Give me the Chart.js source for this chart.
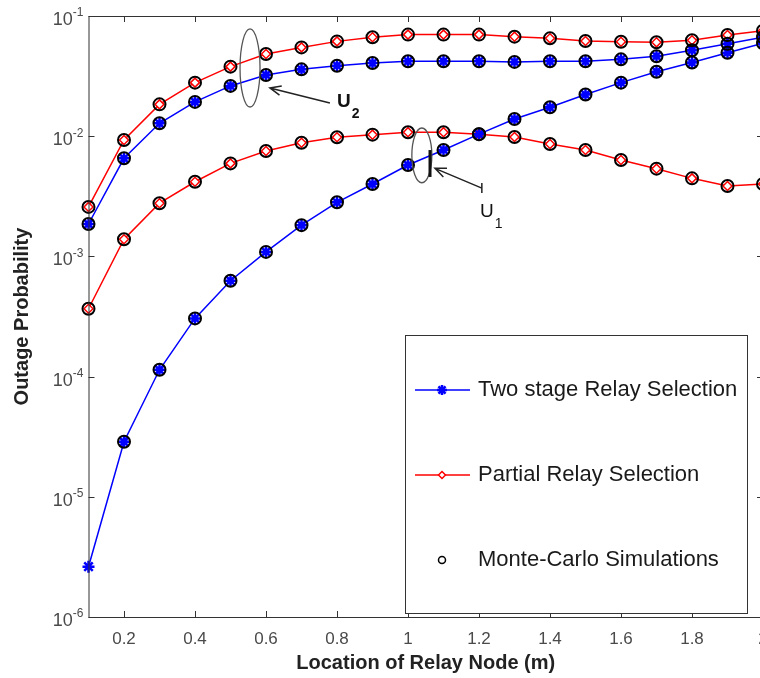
<!DOCTYPE html>
<html>
<head>
<meta charset="utf-8">
<script src="https://cdn.jsdelivr.net/npm/chart.js@4.4.1/dist/chart.umd.min.js"></script>
<style>
  html, body { margin: 0; padding: 0; background: #fff; overflow: hidden; }
  canvas { display: block; }
</style>
</head>
<body>
<canvas id="outage" width="800" height="678"></canvas>
<script>
// relay position along the link (m)
const relayPos = [0.1, 0.2, 0.3, 0.4, 0.5, 0.6, 0.7, 0.8, 0.9, 1.0,
                  1.1, 1.2, 1.3, 1.4, 1.5, 1.6, 1.7, 1.8, 1.9, 2.0];

// outage probability, user U1 and U2
const twoStageU1 = [2.62e-6, 2.87e-5, 1.14e-4, 3.05e-4, 6.28e-4, 1.09e-3, 1.82e-3, 2.82e-3, 4.0e-3, 5.76e-3,
                    7.68e-3, 1.04e-2, 1.39e-2, 1.74e-2, 2.22e-2, 2.79e-2, 3.44e-2, 4.1e-2, 4.95e-2, 5.93e-2];
const twoStageU2 = [1.86e-3, 6.55e-3, 1.28e-2, 1.93e-2, 2.62e-2, 3.23e-2, 3.6e-2, 3.86e-2, 4.06e-2, 4.2e-2,
                    4.2e-2, 4.2e-2, 4.15e-2, 4.2e-2, 4.2e-2, 4.36e-2, 4.63e-2, 5.19e-2, 5.87e-2, 6.65e-2];
const partialU1 = [3.67e-4, 1.39e-3, 2.77e-3, 4.18e-3, 5.94e-3, 7.53e-3, 8.83e-3, 9.8e-3, 1.03e-2, 1.08e-2,
                   1.08e-2, 1.04e-2, 9.85e-3, 8.61e-3, 7.68e-3, 6.34e-3, 5.37e-3, 4.46e-3, 3.85e-3, 4.0e-3];
const partialU2 = [2.58e-3, 9.3e-3, 1.84e-2, 2.79e-2, 3.79e-2, 4.83e-2, 5.48e-2, 6.15e-2, 6.65e-2, 7.0e-2,
                   7.0e-2, 7.0e-2, 6.73e-2, 6.52e-2, 6.2e-2, 6.11e-2, 6.04e-2, 6.28e-2, 6.95e-2, 7.55e-2];

const xTicks = [0.2, 0.4, 0.6, 0.8, 1, 1.2, 1.4, 1.6, 1.8, 2];
const yTicks = [1e-6, 1e-5, 1e-4, 1e-3, 1e-2, 1e-1];
const seriesNames = ['Two stage Relay Selection', 'Partial Relay Selection', 'Monte-Carlo Simulations'];

const FONT = '"Liberation Sans", Arial, sans-serif';
const BLUE = '#0000ff';
const RED = '#ff0000';
const AXIS = '#333333';
const TICK_TEXT = '#4a4a4a';

const pts = arr => arr.map((v, i) => ({ x: relayPos[i], y: v }));

const twoStage = (data) => ({
  label: seriesNames[0], data: pts(data), order: 2, clip: false,
  borderColor: BLUE, borderWidth: 1.5, backgroundColor: BLUE,
  pointStyle: 'star', pointRadius: 6, pointBorderWidth: 2.5, tension: 0
});
const partial = (data) => ({
  label: seriesNames[1], data: pts(data), order: 2, clip: false,
  borderColor: RED, borderWidth: 1.5, backgroundColor: '#ffffff',
  pointStyle: 'rectRot', pointRadius: 4.5, pointBorderWidth: 1.5, tension: 0
});
const monteCarlo = (points) => ({
  label: seriesNames[2], data: points, order: 0, showLine: false, clip: false,
  borderColor: '#000', backgroundColor: 'rgba(0,0,0,0)',
  pointStyle: 'circle', pointRadius: 6, pointBorderWidth: 2
});

// annotation marks, in data units
const u2Ring = { x: 0.555, top: 0.078, bottom: 0.0175 };
const u1Ring = { x: 1.039, top: 0.0117, bottom: 0.0041 };
const u2Arrow = { from: [0.78, 0.0189], to: [0.611, 0.0252] };
const u1Arrow = { from: [1.208, 0.0037], to: [1.076, 0.0054] };
const u1Bar = { x: 1.062, top: 0.00767, bottom: 0.00458 };
const u2Text = { x: 0.80, y: 0.0175, bold: true, sub: '2' };
const u1Text = { x: 1.203, y: 0.00213, bold: false, sub: '1' };

const legendBox = { width: 342, height: 278, right: 16, bottom: 4 };

const framePlugin = {
  id: 'frame',
  afterDraw(chart) {
    const { ctx, chartArea: a, scales: { x, y } } = chart;
    const P = (vx, vy) => [x.getPixelForValue(vx), y.getPixelForValue(vy)];
    ctx.save();

    // box and inward ticks
    ctx.strokeStyle = AXIS;
    ctx.lineWidth = 1;
    ctx.strokeRect(a.left + 0.5, a.top + 0.5, a.right - a.left, a.bottom - a.top);
    ctx.beginPath();
    xTicks.forEach(v => {
      const px = Math.round(x.getPixelForValue(v)) + 0.5;
      ctx.moveTo(px, a.bottom); ctx.lineTo(px, a.bottom - 6);
      ctx.moveTo(px, a.top); ctx.lineTo(px, a.top + 6);
    });
    yTicks.forEach(v => {
      const py = Math.round(y.getPixelForValue(v)) + 0.5;
      ctx.moveTo(a.left, py); ctx.lineTo(a.left + 6, py);
      ctx.moveTo(a.right, py); ctx.lineTo(a.right - 6, py);
    });
    ctx.stroke();

    // decade labels: base 10 with raised exponent
    ctx.fillStyle = TICK_TEXT;
    ctx.textBaseline = 'middle';
    ctx.textAlign = 'right';
    y.ticks.forEach(t => {
      const py = y.getPixelForValue(t.value);
      const exp = String(Math.round(Math.log10(t.value)));
      ctx.font = '12px ' + FONT;
      const ew = ctx.measureText(exp).width;
      ctx.fillText(exp, a.left - 5, py - 3);
      ctx.font = '18px ' + FONT;
      ctx.fillText('10', a.left - 5 - ew, py + 4);
    });

    // user group rings
    ctx.strokeStyle = '#555';
    ctx.lineWidth = 1.3;
    [u2Ring, u1Ring].forEach(r => {
      const [cx, ty] = P(r.x, r.top);
      const by = P(r.x, r.bottom)[1];
      ctx.beginPath();
      ctx.ellipse(cx, (ty + by) / 2, 10, (by - ty) / 2, 0, 0, Math.PI * 2);
      ctx.stroke();
    });

    const [bx, bt] = P(u1Bar.x, u1Bar.top);
    const bb = P(u1Bar.x, u1Bar.bottom)[1];
    ctx.strokeStyle = '#111';
    ctx.lineWidth = 3;
    ctx.beginPath(); ctx.moveTo(bx, bt); ctx.lineTo(bx, bb); ctx.stroke();

    // arrows
    ctx.strokeStyle = '#222';
    ctx.lineWidth = 1.5;
    [u2Arrow, u1Arrow].forEach((ar, k) => {
      const [x0, y0] = P(...ar.from);
      const [x1, y1] = P(...ar.to);
      const ang = Math.atan2(y1 - y0, x1 - x0);
      ctx.beginPath();
      ctx.moveTo(x0, y0); ctx.lineTo(x1, y1);
      ctx.moveTo(x1 - 12 * Math.cos(ang - 0.4), y1 - 12 * Math.sin(ang - 0.4));
      ctx.lineTo(x1, y1);
      ctx.lineTo(x1 - 12 * Math.cos(ang + 0.4), y1 - 12 * Math.sin(ang + 0.4));
      if (k === 1) { ctx.moveTo(x0, y0 - 5); ctx.lineTo(x0, y0 + 5); }
      ctx.stroke();
    });

    // U labels
    ctx.fillStyle = '#111';
    ctx.textBaseline = 'alphabetic';
    ctx.textAlign = 'left';
    [u2Text, u1Text].forEach(t => {
      const [tx, ty] = P(t.x, t.y);
      ctx.font = (t.bold ? 'bold ' : '') + '19px ' + FONT;
      ctx.fillText('U', tx, ty);
      const w = ctx.measureText('U').width;
      ctx.font = (t.bold ? 'bold ' : '') + '14px ' + FONT;
      ctx.fillText(t.sub, tx + w + 1, ty + 11);
    });

    // legend
    const L = a.right - legendBox.right - legendBox.width;
    const T = a.bottom - legendBox.bottom - legendBox.height;
    ctx.fillStyle = '#fff';
    ctx.fillRect(L, T, legendBox.width, legendBox.height);
    ctx.strokeStyle = AXIS;
    ctx.lineWidth = 1;
    ctx.strokeRect(L + 0.5, T + 0.5, legendBox.width, legendBox.height);
    const samples = [chart.data.datasets[0], chart.data.datasets[2], chart.data.datasets[4]];
    samples.forEach((ds, i) => {
      const ly = T + 55 + i * 85;
      const mx = L + 37;
      ctx.strokeStyle = ds.borderColor;
      if (ds.showLine !== false) {
        ctx.lineWidth = 1.5;
        ctx.beginPath(); ctx.moveTo(L + 10, ly); ctx.lineTo(L + 65, ly); ctx.stroke();
        ctx.fillStyle = ds.backgroundColor;
        ctx.lineWidth = ds.pointBorderWidth;
        Chart.helpers.drawPoint(ctx, {
          pointStyle: ds.pointStyle, radius: ds.pointRadius - 1, borderWidth: ds.pointBorderWidth
        }, mx, ly);
      } else {
        ctx.lineWidth = 1.5;
        ctx.beginPath(); ctx.arc(mx, ly, 3.5, 0, Math.PI * 2); ctx.stroke();
      }
      ctx.fillStyle = '#1a1a1a';
      ctx.font = '22px ' + FONT;
      ctx.textBaseline = 'middle';
      ctx.fillText(ds.label, L + 73, ly);
    });
    ctx.restore();
  }
};

new Chart(document.getElementById('outage'), {
  type: 'line',
  data: {
    datasets: [
      twoStage(twoStageU1), monteCarlo(pts(twoStageU1).slice(1)),
      partial(partialU1), monteCarlo(pts(partialU1)),
      monteCarlo(pts(twoStageU2)), twoStage(twoStageU2),
      partial(partialU2), monteCarlo(pts(partialU2))
    ]
  },
  options: {
    responsive: false,
    animation: false,
    layout: { padding: { top: 16, right: 37, left: 0, bottom: 0 } },
    plugins: { legend: { display: false }, tooltip: { enabled: false } },
    scales: {
      x: {
        type: 'linear', min: 0.1, max: 2,
        afterBuildTicks: s => { s.ticks = xTicks.map(v => ({ value: v })); },
        afterFit: s => { s.height = 61; },
        grid: { drawOnChartArea: false, drawTicks: false },
        border: { display: false },
        ticks: {
          padding: 12, color: TICK_TEXT, font: { family: FONT, size: 17 },
          callback: v => String(+v.toFixed(1))
        },
        title: {
          display: true, text: 'Location of Relay Node (m)', color: '#222',
          font: { family: FONT, size: 20, weight: 'bold' }, padding: { top: 0, bottom: 3 }
        }
      },
      y: {
        type: 'logarithmic', min: 1e-6, max: 1e-1,
        afterBuildTicks: s => { s.ticks = yTicks.map(v => ({ value: v })); },
        afterFit: s => { s.width = 88.5; },
        grid: { drawOnChartArea: false, drawTicks: false },
        border: { display: false },
        ticks: { display: false },
        title: {
          display: true, text: 'Outage Probability', color: '#222',
          font: { family: FONT, size: 20, weight: 'bold' }, padding: { top: 10, bottom: 0 }
        }
      }
    }
  },
  plugins: [framePlugin]
});
</script>
</body>
</html>
